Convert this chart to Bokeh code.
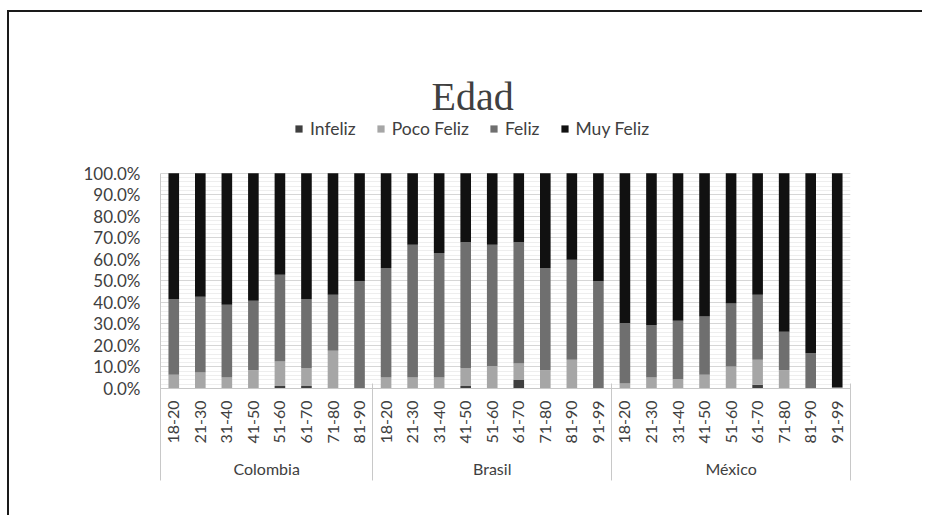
from bokeh.plotting import figure
from bokeh.models import (FactorRange, ColumnDataSource, NumeralTickFormatter, Range1d,
                          LinearAxis, FixedTicker, Legend)
from bokeh.embed import file_html
from bokeh.resources import INLINE
import math

countries = ["Colombia", "Brasil", "México"]
ages_colombia = ["18-20", "21-30", "31-40", "41-50", "51-60", "61-70", "71-80", "81-90"]
ages_brasil = ["18-20", "21-30", "31-40", "41-50", "51-60", "61-70", "71-80", "81-90", "91-99"]
ages_mexico = ["18-20", "21-30", "31-40", "41-50", "51-60", "61-70", "71-80", "81-90", "91-99"]

series = ["Infeliz", "Poco Feliz", "Feliz", "Muy Feliz"]

# percentages per age group
infeliz_colombia = [0, 0, 0, 0, 1.2, 1.2, 0, 0]
poco_colombia = [6.4, 7.4, 5.1, 8.5, 11.4, 8.3, 17.5, 0]
feliz_colombia = [35.2, 35.2, 33.8, 32.3, 40.3, 32.1, 26.1, 49.8]
muy_colombia = [58.4, 57.4, 61.1, 59.2, 47.1, 58.4, 56.4, 50.2]

infeliz_brasil = [0, 0, 0, 1.2, 0, 4.0, 0, 0, 0]
poco_brasil = [5.1, 5.1, 5.1, 8.3, 10.5, 7.6, 8.5, 13.3, 0]
feliz_brasil = [50.9, 61.7, 57.8, 58.4, 56.3, 56.3, 47.5, 46.5, 49.8]
muy_brasil = [44.0, 33.2, 37.1, 32.1, 33.2, 32.1, 44.0, 40.2, 50.2]

infeliz_mexico = [0, 0, 0, 0, 0, 1.7, 0, 0, 0]
poco_mexico = [2.3, 5.1, 4.3, 6.4, 10.2, 11.6, 8.5, 0, 0.5]
feliz_mexico = [28.1, 24.4, 27.2, 27.1, 29.3, 30.3, 17.9, 16.4, 0]
muy_mexico = [69.6, 70.5, 68.5, 66.5, 60.5, 56.4, 73.6, 83.6, 99.5]

colors = ["#3f3f3f", "#a6a6a6", "#6f6f6f", "#111111"]

age_lists = [ages_colombia, ages_brasil, ages_mexico]
x = [(c, a) for c, ages in zip(countries, age_lists) for a in ages]
def cat(a, b, c):
    return [v / 100.0 for v in a + b + c]
data = {
    "x": x,
    "Infeliz": cat(infeliz_colombia, infeliz_brasil, infeliz_mexico),
    "Poco Feliz": cat(poco_colombia, poco_brasil, poco_mexico),
    "Feliz": cat(feliz_colombia, feliz_brasil, feliz_mexico),
    "Muy Feliz": cat(muy_colombia, muy_brasil, muy_mexico),
}
source = ColumnDataSource(data)

xr = FactorRange(*x, range_padding=0, group_padding=0, factor_padding=0)

# the frame reaches above 100% to hold the legend
p = figure(x_range=xr, y_range=Range1d(0, 1.2544), width=915, height=505,
           output_backend="svg", toolbar_location=None,
           min_border_left=151, min_border_right=74, min_border_top=106, min_border_bottom=129,
           background_fill_color="white", border_fill_color="white",
           outline_line_color=None, margin=(10, 0, 0, 7))
p.styles = {"border-top": "2px solid #1a1a1a", "border-left": "2px solid #1a1a1a"}

renderers = p.vbar_stack(series, x="x", width=0.4, color=colors, line_color=None, source=source)

legend = Legend(items=[(s, [r]) for s, r in zip(series, renderers)], orientation="horizontal",
                location=(134, 249), background_fill_alpha=0, border_line_color=None,
                label_text_font="Lato", label_text_font_size="17.5px", label_text_color="#404040",
                glyph_width=9, glyph_height=9, spacing=20, label_standoff=7, padding=0, margin=0,
                label_height=20)
p.add_layout(legend, "center")

# title
p.title.text = "Edad"
p.title.align = "left"
p.title.offset = 271
p.title.text_font = "Liberation Serif"
p.title.text_font_size = "40px"
p.title.text_font_style = "normal"
p.title.text_color = "#404040"
p.title.standoff = 0

# y axis
p.yaxis.ticker = FixedTicker(ticks=[i / 10 for i in range(11)],
                             minor_ticks=[i / 50 for i in range(51)])
p.yaxis.bounds = (0, 1)
p.yaxis.formatter = NumeralTickFormatter(format="0.0%")
p.yaxis.major_label_text_font = "Lato"
p.yaxis.major_label_text_font_size = "17px"
p.yaxis.major_label_text_color = "#404040"
p.yaxis.major_tick_line_color = None
p.yaxis.minor_tick_line_color = None
p.yaxis.major_tick_out = 0
p.yaxis.major_label_standoff = 16
p.yaxis.axis_line_color = "#c8c8c8"

p.ygrid.bounds = (0, 1)
p.ygrid.grid_line_color = "#d6d6d6"
p.ygrid.minor_grid_line_color = "#eeeeee"
p.xgrid.grid_line_color = None

# categorical x axis
xa = p.xaxis[0]
xa.major_label_orientation = math.pi / 2
xa.major_label_standoff = 12
xa.major_label_text_font = "Lato"
xa.major_label_text_font_size = "16px"
xa.major_label_text_color = "#404040"
xa.group_text_font = "Lato"
xa.group_text_font_size = "16px"
xa.group_text_font_style = "normal"
xa.group_text_color = "#404040"
xa.major_tick_line_color = None
xa.major_tick_out = 0
xa.axis_line_color = "#c8c8c8"
xa.separator_line_color = None

# group boundary lines (synthetic coordinates of the factor range)
bounds = [0]
for ages in age_lists:
    bounds.append(bounds[-1] + len(ages))
ba = LinearAxis(ticker=FixedTicker(ticks=bounds, minor_ticks=[]),
                major_tick_in=97, major_tick_out=0, major_tick_line_color="#c8c8c8",
                axis_line_color=None, major_label_text_color=None,
                major_label_text_font_size="1px", minor_tick_line_color=None)
p.add_layout(ba, "below")

open("out.html", "w").write(file_html(p, INLINE))
